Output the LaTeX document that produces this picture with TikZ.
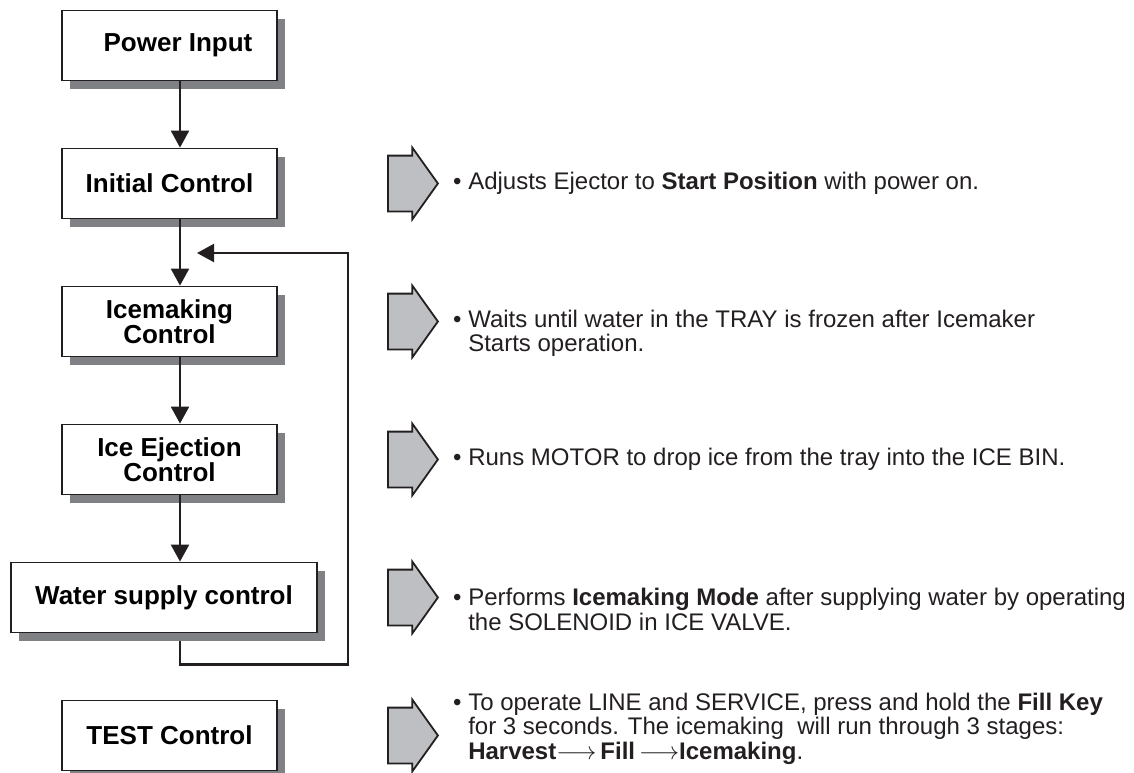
\documentclass[tikz,border=0pt]{standalone}
\usepackage{fontspec}
\setmainfont{Liberation Sans}
\usetikzlibrary{positioning,shapes.arrows,arrows.meta,shadows}
\definecolor{boxgray}{RGB}{128,129,133}
\definecolor{arrgray}{RGB}{190,191,194}
\definecolor{ink}{RGB}{35,31,32}

\begin{document}
\begin{tikzpicture}[x=1pt, y=-1pt,
    node distance=66.2pt and 14pt,
    ctrl/.style={rectangle, draw=ink, line width=1.8pt, fill=white,
                 minimum width=215pt, minimum height=70pt, align=center,
                 inner sep=2pt, font=\bfseries\fontsize{26}{25}\selectfont,
                 drop shadow={shadow xshift=8pt, shadow yshift=-8pt,
                              fill=boxgray, opacity=1}},
    blk/.style={single arrow, draw=ink, line width=1.8pt, fill=arrgray,
                minimum height=50pt, inner xsep=0pt, inner ysep=27pt,
                single arrow head extend=8pt, single arrow tip angle=109,
                anchor=tail},
    desc/.style={align=left, inner sep=0pt, text=ink,
                 font=\fontsize{24}{24.5}\selectfont},
    flow/.style={-{Triangle[length=17pt, width=18pt]}, line width=2.2pt, draw=ink}]
  \useasboundingbox (0,0) rectangle (1134,772);
  % control boxes
  \node[ctrl] (pwr) at (169.5,45.5) {\hspace*{17pt}Power Input};
  \node[ctrl, below=of pwr]  (init)  {Initial Control};
  \node[ctrl, below=of init] (ice)   {Icemaking\\Control};
  \node[ctrl, below=of ice]  (eject) {Ice Ejection\\Control};
  \node[ctrl, below=of eject, xshift=-5.5pt, minimum width=306pt] (water) {Water supply control};
  \node[ctrl, below=of water, xshift=5.5pt] (test) {TEST Control};
  % block arrows and notes
  \coordinate (apos) at (387,0);
  \node[blk] (a1) at (init -| apos) {};
  \node[blk] (a2) at (ice -| apos) {};
  \node[blk] (a3) at (eject -| apos) {};
  \node[blk] (a4) at (water -| apos) {};
  \node[blk] (a5) at (test -| apos) {};
  \node[desc, right=of a1.tip] (d1) {• Adjusts Ejector to \textbf{Start Position} with power on.};
  \node[desc, right=of a2.tip, yshift=-12pt] (d2) {• Waits until water in the TRAY is frozen after Icemaker\\
    \hphantom{• }Starts operation.};
  \node[desc, right=of a3.tip] (d3) {• Runs MOTOR to drop ice from the tray into the ICE BIN.};
  \node[desc, right=of a4.tip, yshift=-12pt] (d4) {• Performs \textbf{Icemaking Mode} after supplying water by operating\\
    \hphantom{• }the SOLENOID in ICE VALVE.};
  \node[desc, right=of a5.tip, yshift=7pt] (d5) {• To operate LINE and SERVICE, press and hold the \textbf{Fill Key}\\
    \hphantom{• }for 3 seconds. The icemaking\ \ will run through 3 stages:\\
    \hphantom{• }\textbf{Harvest}$\longrightarrow$\,\textbf{Fill}\,$\longrightarrow$\textbf{Icemaking}.};
  % flow
  \draw[flow] ([xshift=10.5pt]pwr.south)   -- ([xshift=10.5pt]init.north);
  \draw[flow] ([xshift=10.5pt]init.south)  -- ([xshift=10.5pt]ice.north);
  \draw[flow] ([xshift=10.5pt]ice.south)   -- ([xshift=10.5pt]eject.north);
  \draw[flow] ([xshift=10.5pt]eject.south) -- ([xshift=16pt]water.north);
  % return loop
  \coordinate (back) at (197,253);
  \draw[flow] ([xshift=16pt, yshift=-8pt]water.south) -- ++(0,23) -| (348,253) -- (back);
\end{tikzpicture}
\end{document}
